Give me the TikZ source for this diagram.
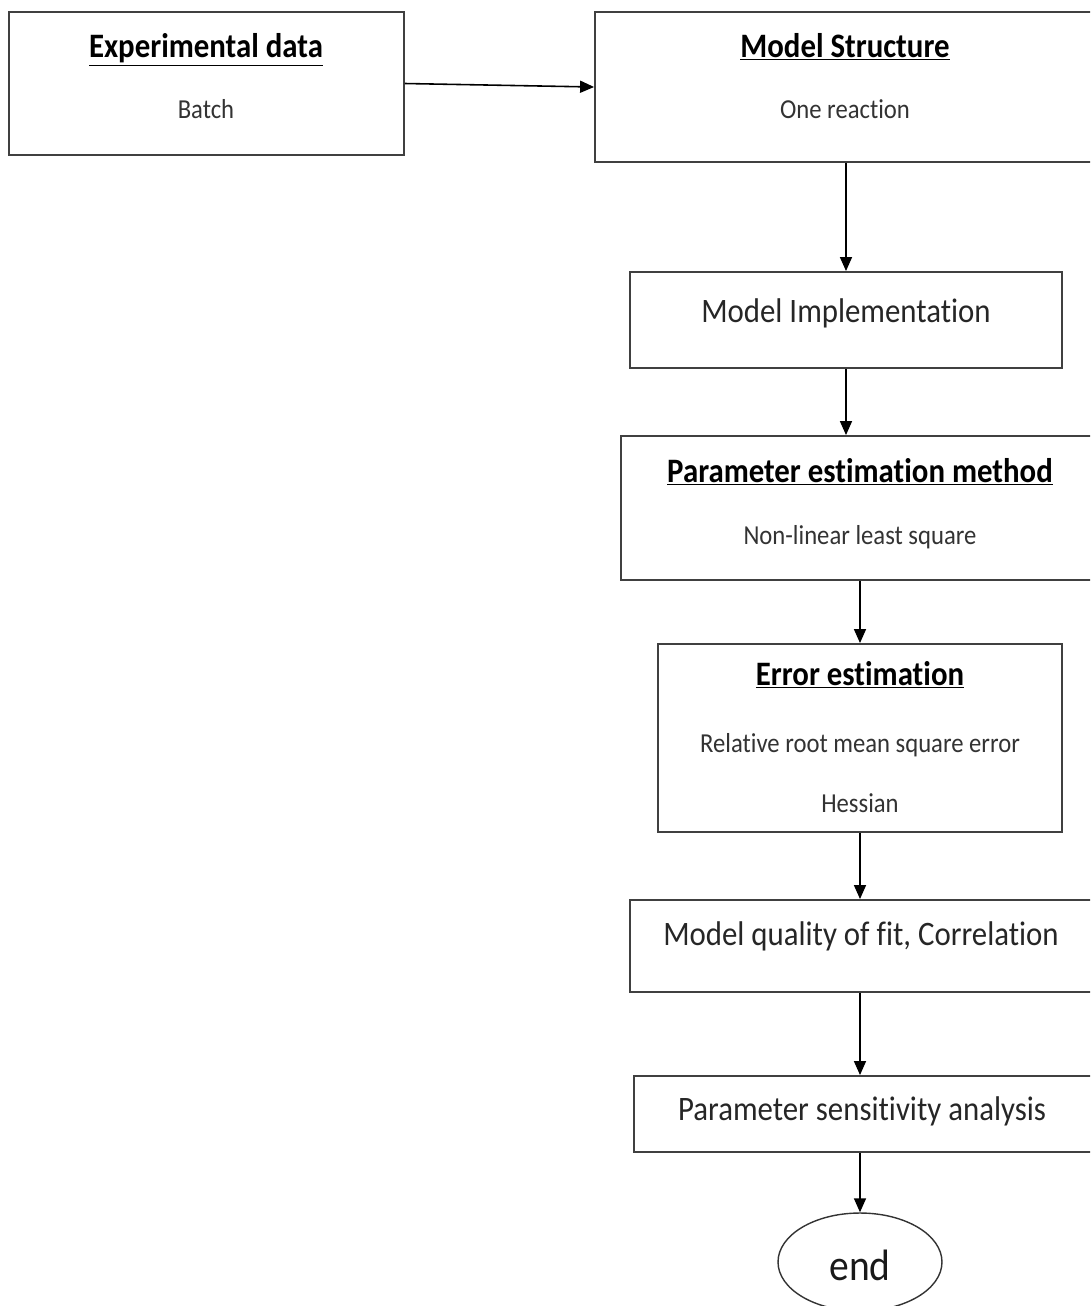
\documentclass[tikz,border=0pt]{standalone}
\usepackage{fontspec}
\setmainfont{Carlito}[FakeStretch=0.9, Ligatures=NoCommon]
\usetikzlibrary{arrows.meta}
\usetikzlibrary{shapes.geometric}

\begin{document}
\begin{tikzpicture}[x=0.02cm, y=-0.02cm]
            \tikzstyle{box} = [draw=black!75, line width=1.1pt, rectangle, inner sep=0pt]
            \tikzstyle{ttl} = [anchor=base, font=\fontsize{19.5}{22}\selectfont\bfseries, text=black]
            \tikzstyle{sub} = [anchor=base, font=\fontsize{15.6}{18}\selectfont, text=black!80]
            \tikzstyle{big} = [anchor=base, font=\fontsize{19.5}{24}\selectfont, text=black!85]
            \tikzstyle{arr} = [line width=0.9pt, -{Triangle[length=2.8mm, width=2.4mm]}]
            \useasboundingbox (0, 0) rectangle (1090, 1306);
            \clip (0, 0) rectangle (1090, 1306);
            % boxes
            \node[box, minimum width=7.9cm, minimum height=2.86cm] (exp) at (206.5, 83.5) {};
            \node[box, minimum width=10.1cm, minimum height=3cm] (struct) at (847.5, 87) {};
            \node[box, minimum width=8.64cm, minimum height=1.92cm] (impl) at (846, 320) {};
            \node[box, minimum width=9.58cm, minimum height=2.88cm] (estim) at (860.5, 508) {};
            \node[box, minimum width=8.08cm, minimum height=3.76cm] (err) at (860, 738) {};
            \node[box, minimum width=9.4cm, minimum height=1.84cm] (fit) at (865, 946) {};
            \node[box, minimum width=9.32cm, minimum height=1.52cm] (sens) at (867, 1114) {};
            \node[ellipse, draw=black!80, line width=0.8pt, minimum width=3.28cm, minimum height=1.96cm,
                inner sep=0pt] (end) at (860, 1262) {};
            % texts
            \node[ttl] (expttl) at (206, 57) {\underline{Experimental data}};
            \node[sub] (expsub) at (206, 118) {Batch};
            \node[ttl] (structttl) at (845, 57) {\underline{Model Structure}};
            \node[sub] (structsub) at (845, 118) {One reaction};
            \node[big] (impltxt) at (846, 322) {Model Implementation};
            \node[ttl] (estimttl) at (860, 482) {\underline{Parameter estimation method}};
            \node[sub] (estimsub) at (860, 544) {Non-linear least square};
            \node[ttl] (errttl) at (860, 685) {\underline{Error estimation}};
            \node[sub] (errsub) at (860, 752) {Relative root mean square error};
            \node[sub] (errhess) at (860, 812) {Hessian};
            \node[big] (fittxt) at (861, 945) {Model quality of fit, Correlation};
            \node[big] (senstxt) at (862, 1120) {Parameter sensitivity analysis};
            \node[anchor=base, font=\fontsize{25}{30}\selectfont, text=black!90] (endtxt) at (860, 1280) {end};
            % connectors
            \draw[arr] (exp.east) -- (struct.west);
            \draw[arr] (struct.south -| impl.north) -- (impl.north);
            \draw[arr] (impl.south) -- (impl.south |- estim.north);
            \draw[arr] (estim.south -| err.north) -- (err.north);
            \draw[arr] (err.south) -- (err.south |- fit.north);
            \draw[arr] (fit.south -| err.south) -- (sens.north -| end.north);
            \draw[arr] (sens.south -| end.north) -- (end.north);
        \end{tikzpicture}
\end{document}
